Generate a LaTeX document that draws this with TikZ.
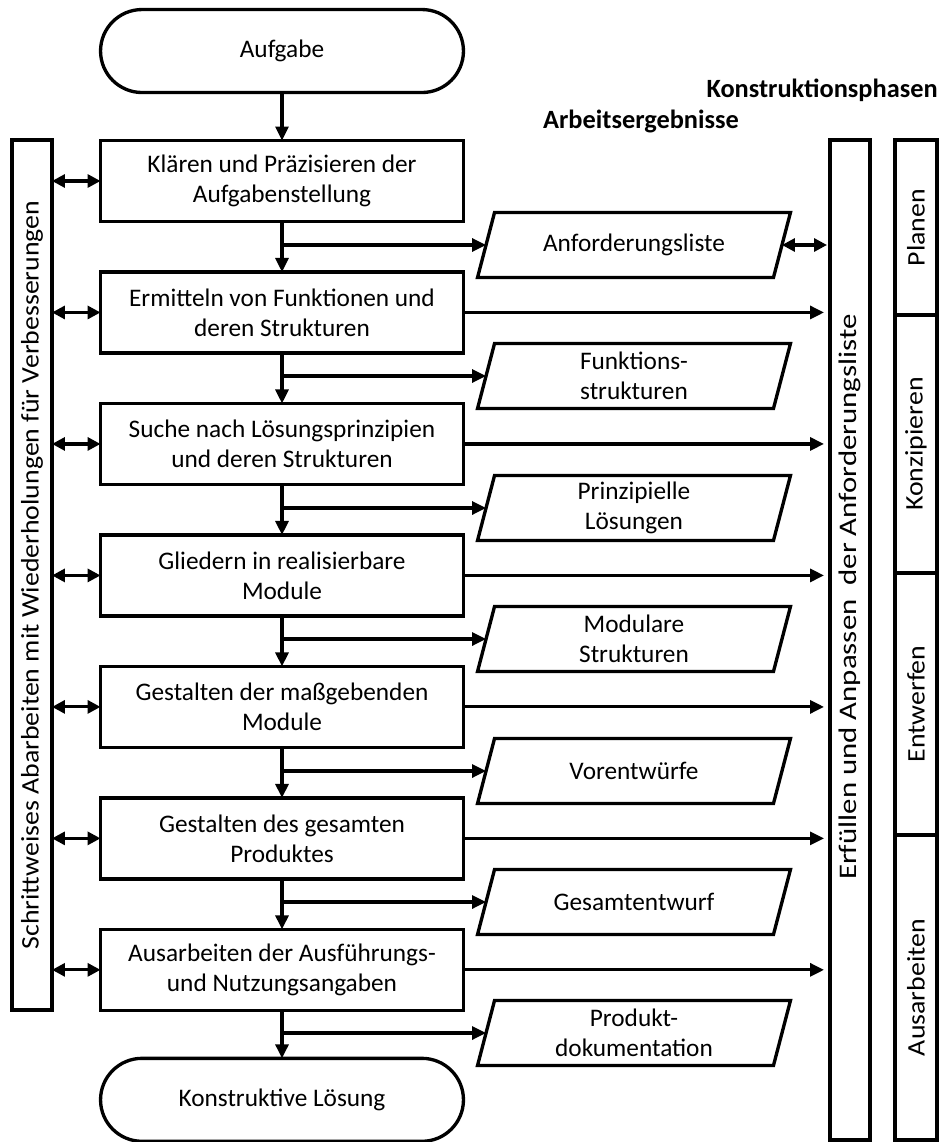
\documentclass[tikz,border=0pt]{standalone}
\usepackage{fontspec}
\setmainfont{Carlito}
\usetikzlibrary{arrows.meta, positioning, calc}

% Rahmen der Arbeitsergebnisse (Parallelogramm um einen Knoten)
\newcommand{\ergrahmen}[1]{%
  \draw[line width=1.9pt, line join=miter]
    ([xshift=-0.17cm]#1.south west) -- ([xshift=-0.17cm]#1.south east)
    -- ([xshift=0.17cm]#1.north east) -- ([xshift=0.17cm]#1.north west) -- cycle;}
\newcommand{\gestreckt}[2][1.1]{\scalebox{#1}[1]{#2}}

\begin{document}
\begin{tikzpicture}[
  x=0.02cm, y=-0.02cm,
  node distance=1.01cm,
  every node/.style={font=\fontsize{14.4}{17}\selectfont},
  base/.style={draw=black, line width=1.9pt, outer sep=0pt, align=center},
  term/.style={base, rectangle, rounded corners=0.83cm,
               minimum width=7.26cm, minimum height=1.66cm},
  proc/.style={base, rectangle, minimum width=7.26cm, minimum height=1.62cm},
  result/.style={rectangle, outer sep=0pt, inner sep=1pt, align=center,
                 minimum width=5.92cm, minimum height=1.3cm},
  col/.style={base, rectangle, minimum width=0.8cm},
  head/.style={font=\fontsize{15}{17}\selectfont\bfseries, inner sep=0pt},
  arr/.style={line width=1.8pt, -{Triangle[length=0.28cm,width=0.26cm]}},
  darr/.style={line width=1.8pt, {Triangle[length=0.26cm,width=0.26cm]}-{Triangle[length=0.26cm,width=0.26cm]}},
]
\useasboundingbox (0,0) rectangle (940,1142);

% Hauptablauf
\node[proc] (k1) at (282,181) {Klären und Präzisieren der\\Aufgabenstellung};
\node[term, above=0.96cm of k1] (aufgabe) {Aufgabe};
\node[proc, below=of k1] (k2) {Ermitteln von Funktionen und\\deren Strukturen};
\node[proc, below=of k2] (k3) {Suche nach Lösungsprinzipien\\und deren Strukturen};
\node[proc, below=of k3] (k4) {Gliedern in realisierbare\\Module};
\node[proc, below=of k4] (k5) {Gestalten der maßgebenden\\Module};
\node[proc, below=of k5] (k6) {Gestalten des gesamten\\Produktes};
\node[proc, below=of k6] (k7) {Ausarbeiten der Ausführungs-\\und Nutzungsangaben};
\node[term, below=0.96cm of k7] (ende) {Konstruktive Lösung};

% Arbeitsergebnisse
\node[result] (r1) at (634,245) {Anforderungsliste};
\node[result] (r2) at (634,376) {Funktions-\\strukturen};
\node[result] (r3) at (634,508) {Prinzipielle\\Lösungen};
\node[result] (r4) at (634,639) {Modulare\\Strukturen};
\node[result] (r5) at (634,771) {Vorentwürfe};
\node[result] (r6) at (634,902) {Gesamtentwurf};
\node[result] (r7) at (634,1033) {Produkt-\\dokumentation};
\ergrahmen{r1} \ergrahmen{r2} \ergrahmen{r3} \ergrahmen{r4}
\ergrahmen{r5} \ergrahmen{r6} \ergrahmen{r7}

% Spalten
\node[col, minimum height=17.4cm] (links) at (32,575) {};
\node[rotate=90] (linkstext) at (links.center)
  {\gestreckt{Schrittweises Abarbeiten mit Wiederholungen für Verbesserungen}};
\node[col, minimum height=20cm] (erf) at (850,640) {};
\node[rotate=90] (erftext) at (850,597) {\gestreckt[1.22]{Erfüllen und Anpassen\ \ der Anforderungsliste}};
\node[col, rotate=90, minimum width=3.5cm, minimum height=0.84cm] (planen) at (916,227.5) {\gestreckt{Planen}};
\node[col, rotate=90, minimum width=5.16cm, minimum height=0.84cm] (konz) at (916,444) {\gestreckt{Konzipieren}};
\node[col, rotate=90, minimum width=5.24cm, minimum height=0.84cm] (entw) at (916,704) {\gestreckt{Entwerfen}};
\node[col, rotate=90, minimum width=6.1cm, minimum height=0.84cm] (ausarb) at (916,987.5) {\gestreckt{Ausarbeiten}};

\node[head, anchor=east] (phasen) at (938,90) {Konstruktionsphasen};
\node[head] (ergebnisse) at (641,121) {Arbeitsergebnisse};

% Pfeile
\draw[arr](aufgabe)--(k1); \draw[arr](k1)--(k2); \draw[arr](k2)--(k3); \draw[arr](k3)--(k4);
\draw[arr](k4)--(k5); \draw[arr](k5)--(k6); \draw[arr](k6)--(k7); \draw[arr](k7)--(ende);
\draw[arr](k1.south |- r1.west)--(r1.west); \draw[arr](k2.south |- r2.west)--(r2.west);
\draw[arr](k3.south |- r3.west)--(r3.west); \draw[arr](k4.south |- r4.west)--(r4.west);
\draw[arr](k5.south |- r5.west)--(r5.west); \draw[arr](k6.south |- r6.west)--(r6.west);
\draw[arr](k7.south |- r7.west)--(r7.west);
\draw[darr](links.east |- k1.west)--(k1.west); \draw[darr](links.east |- k2.west)--(k2.west);
\draw[darr](links.east |- k3.west)--(k3.west); \draw[darr](links.east |- k4.west)--(k4.west);
\draw[darr](links.east |- k5.west)--(k5.west); \draw[darr](links.east |- k6.west)--(k6.west);
\draw[darr](links.east |- k7.west)--(k7.west);
\draw[darr, shorten >=0.06cm](r1.east)--(r1.east -| erf.west);
\draw[arr, shorten >=0.12cm](k2.east)--(k2.east -| erf.west); \draw[arr, shorten >=0.12cm](k3.east)--(k3.east -| erf.west);
\draw[arr, shorten >=0.12cm](k4.east)--(k4.east -| erf.west); \draw[arr, shorten >=0.12cm](k5.east)--(k5.east -| erf.west);
\draw[arr, shorten >=0.12cm](k6.east)--(k6.east -| erf.west); \draw[arr, shorten >=0.12cm](k7.east)--(k7.east -| erf.west);
\end{tikzpicture}
\end{document}
